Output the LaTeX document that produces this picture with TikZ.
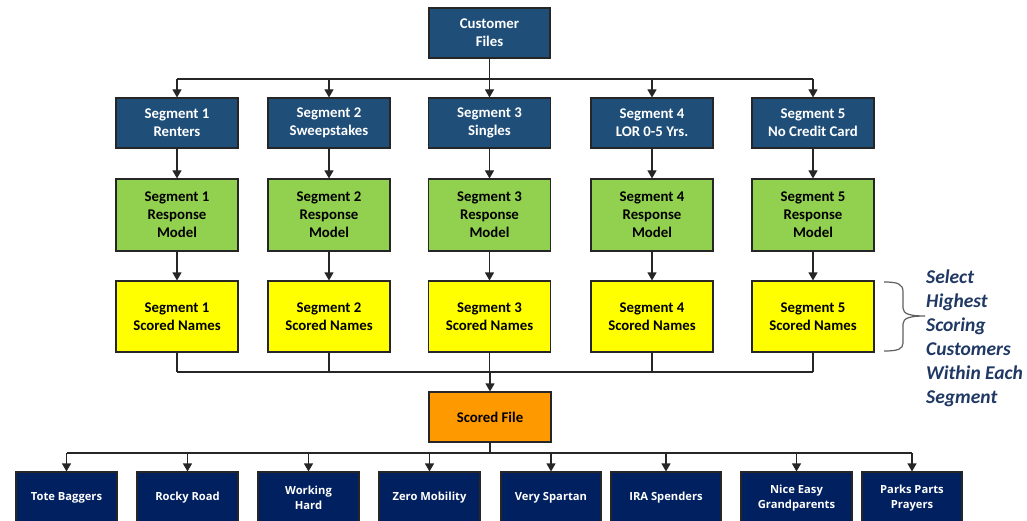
\documentclass[tikz,border=0pt]{standalone}
\usepackage{fontspec}
\setmainfont{Carlito}
\newfontfamily\leaffont{Open Sans}
\usetikzlibrary{arrows.meta}
\definecolor{segblue}{HTML}{1F4E79}
\definecolor{leafblue}{HTML}{002060}
\definecolor{modelgreen}{HTML}{92D050}
\definecolor{scoreyellow}{HTML}{FFFF00}
\definecolor{fileorange}{HTML}{FF9900}
\definecolor{notenavy}{HTML}{1F3864}
\tikzset{
  box/.style={draw=black!85, line width=1.1pt, align=center, inner sep=0pt,
    font=\fontsize{14.8}{18}\selectfont\bfseries},
  topbox/.style={box, fill=segblue, text=white, minimum width=122pt, minimum height=50pt},
  modelbox/.style={box, fill=modelgreen, text=black, minimum width=122pt, minimum height=72pt},
  namesbox/.style={box, fill=scoreyellow, text=black, minimum width=122pt, minimum height=71pt},
  filebox/.style={box, fill=fileorange, text=black, minimum width=122pt, minimum height=50pt},
  leafbox/.style={box, fill=leafblue, text=white, minimum height=52pt,
    font=\leaffont\fontsize{11.2}{15}\selectfont\bfseries},
  link/.style={draw=black!85, line width=1.1pt},
  arr/.style={link, -{Triangle[length=8pt,width=9pt]}},
  note/.style={text=notenavy, align=left, inner sep=0pt,
    font=\fontsize{19.5}{24}\selectfont\bfseries\itshape},
}
\begin{document}
\begin{tikzpicture}[x=1pt,y=-1pt]
\useasboundingbox (0,0) rectangle (1027,521);
\fill[white] (0,0) rectangle (1027,521);

% source file
\node[topbox, minimum width=121pt] (cf) at (489.5,33) {Customer\\Files};

% segments
\node[topbox] (s1) at (177,123) {Segment 1\\Renters};
\node[topbox] (s2) at (329,123) {Segment 2\\Sweepstakes};
\node[topbox] (s3) at (489.5,123) {Segment 3\\Singles};
\node[topbox] (s4) at (652,123) {Segment 4\\LOR 0-5 Yrs.};
\node[topbox] (s5) at (813,123) {Segment 5\\No Credit Card};

% response models
\node[modelbox] (m1) at (177,215) {Segment 1\\Response\\Model};
\node[modelbox] (m2) at (329,215) {Segment 2\\Response\\Model};
\node[modelbox] (m3) at (489.5,215) {Segment 3\\Response\\Model};
\node[modelbox] (m4) at (652,215) {Segment 4\\Response\\Model};
\node[modelbox] (m5) at (813,215) {Segment 5\\Response\\Model};

% scored names
\node[namesbox] (n1) at (177,316.5) {Segment 1\\Scored Names};
\node[namesbox] (n2) at (329,316.5) {Segment 2\\Scored Names};
\node[namesbox] (n3) at (489.5,316.5) {Segment 3\\Scored Names};
\node[namesbox] (n4) at (652,316.5) {Segment 4\\Scored Names};
\node[namesbox] (n5) at (813,316.5) {Segment 5\\Scored Names};

% merged file
\node[filebox] (sf) at (490,417) {Scored File};

% clusters
\node[leafbox, minimum width=101pt] (c1) at (66.5,498) {Tote Baggers};
\node[leafbox, minimum width=101pt] (c2) at (187.5,498) {Rocky Road};
\node[leafbox, minimum width=101pt] (c3) at (308.5,498) {Working\\Hard};
\node[leafbox, minimum width=101pt] (c4) at (429.5,498) {Zero Mobility};
\node[leafbox, minimum width=100pt] (c5) at (551,498) {Very Spartan};
\node[leafbox, minimum width=110pt] (c6) at (666,498) {IRA Spenders};
\node[leafbox, minimum width=111pt] (c7) at (796.5,498) {Nice Easy\\Grandparents};
\node[leafbox, minimum width=100pt] (c8) at (912,498) {Parks Parts\\Prayers};

% bus levels
\coordinate (bus1) at (490,79);
\coordinate (bus2) at (490,372);
\coordinate (bus3) at (490,453);

% fan-out to segments
\draw[link] (s1 |- bus1) -- (s5 |- bus1);
\draw[arr] (cf) -- (s3);
\foreach \i in {1,2,4,5} \draw[arr] (s\i |- bus1) -- (s\i.north);

% segment pipelines
\foreach \i in {1,...,5} {
  \draw[arr] (s\i) -- (m\i);
  \draw[arr] (m\i) -- (n\i);
  \draw[link] (n\i.south) -- (n\i |- bus2);
}
\draw[link] (n1 |- bus2) -- (n5 |- bus2);
\draw[arr] (bus2) -- (sf.north);

% fan-out to clusters
\draw[link] (sf.south) -- (bus3);
\draw[link] (c1 |- bus3) -- (c8 |- bus3);
\foreach \i in {1,...,8} \draw[arr] (c\i |- bus3) -- (c\i.north);

% selection brace and note
\draw[gray!75!black, line width=1.2pt]
  (884,282) .. controls (898,282) and (903,284) .. (903,292) -- (903,308)
  .. controls (903,314) and (910,316) .. (925,316)
  .. controls (910,316) and (903,318) .. (903,324) -- (903,343)
  .. controls (903,349) and (898,351) .. (884,351);
\node[note, anchor=base west] (note) at (926,403)
  {Select\\Highest\\Scoring\\Customers\\Within Each\\Segment};
\end{tikzpicture}
\end{document}
